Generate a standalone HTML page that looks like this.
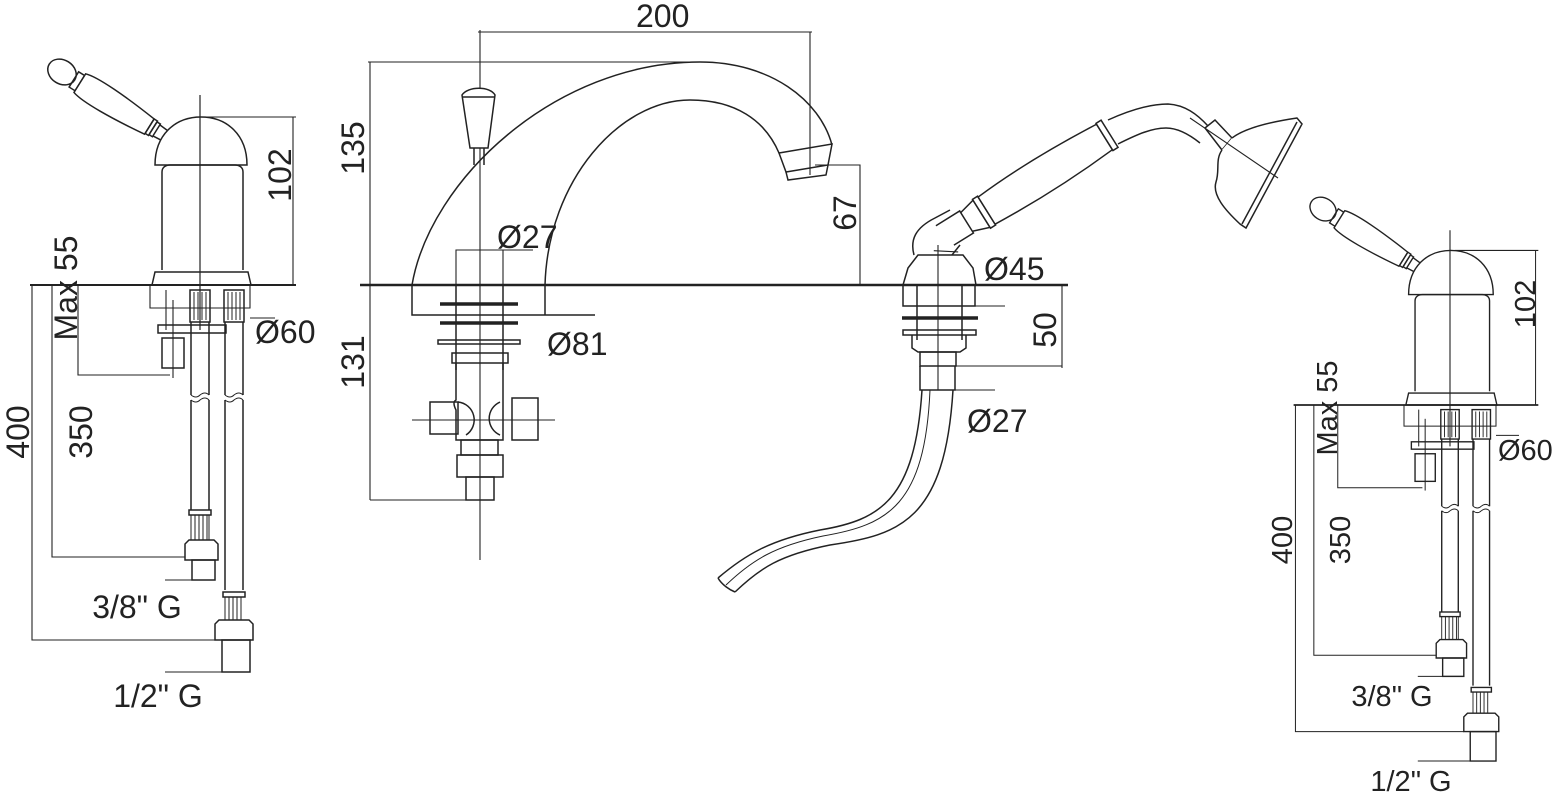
<!DOCTYPE html>
<html><head><meta charset="utf-8"><style>
html,body{margin:0;padding:0;background:#fff;}
svg{display:block;}
text{font-family:"Liberation Sans",sans-serif;fill:#222;}
</style></head><body>
<svg width="1566" height="799" viewBox="0 0 1566 799" xmlns="http://www.w3.org/2000/svg">
<defs>
<g id="v" fill="none" stroke="#222" stroke-width="1.5">
  <g transform="rotate(32 62 72)">
    <ellipse cx="62" cy="72" rx="15" ry="12" fill="#fff"/>
    <rect x="76" y="63" width="7" height="18"/>
    <path d="M83,61 C95,57 130,59 165,63 L165,81 C130,85 95,87 83,83 Z" fill="#fff"/>
    <rect x="165" y="63" width="4" height="17"/>
    <rect x="169" y="64" width="4" height="15"/>
    <path d="M173,65 L186,66 M173,78 L186,77"/>
  </g>
  <path d="M155,165 C155,135 175,117 201,117 C227,117 247,135 247,165 Z" fill="#fff"/>
  <path d="M162,270 L162,172 C162,167 166,165 170,165 L235,165 C239,165 243,167 243,172 L243,270"/>
  <path d="M152,285 L155,272 L248,272 L251,285 Z"/>
  <line x1="200" y1="95" x2="200" y2="330" stroke-width="1.2"/>
  <line x1="205" y1="117" x2="296" y2="117" stroke-width="1.1"/>
  <line x1="293" y1="117" x2="293" y2="285" stroke-width="1.1"/>
  <line x1="30" y1="285" x2="296" y2="285" stroke-width="2"/>
  <path d="M150,285 L150,308 L250,308 L250,285" stroke-width="1.1"/>
  <line x1="250" y1="318" x2="275" y2="318" stroke-width="1.1"/>
  <rect x="158" y="325" width="68" height="8"/>
  <rect x="162" y="338" width="22" height="30"/>
  <line x1="173" y1="300" x2="173" y2="378" stroke-width="1.1"/>
  <line x1="166" y1="290" x2="166" y2="330" stroke-width="1.1"/>
  <rect x="190" y="290" width="20" height="32"/>
  <path d="M194,292 V320 M198,292 V320 M202,292 V320 M206,292 V320" stroke-width="1"/>
  <path d="M191,322 V395 M209,322 V395 M191,400 V510 M209,400 V510" />
  <path d="M191,395 q5,4 9,0 q5,-4 9,0 M191,400 q5,4 9,0 q5,-4 9,0" stroke-width="1"/>
  <rect x="189" y="510" width="22" height="5"/>
  <path d="M191,515 V540 M195,515 V540 M199,515 V540 M203,515 V540 M207,515 V540 M209,515 V540" stroke-width="1"/>
  <path d="M185,560 L185,544 L189,540 L214,540 L218,544 L218,560 Z"/>
  <rect x="192" y="560" width="23" height="20"/>
  <line x1="165" y1="580" x2="215" y2="580" stroke-width="1.1"/>
  <rect x="224" y="290" width="20" height="32"/>
  <path d="M228,292 V320 M232,292 V320 M236,292 V320 M240,292 V320" stroke-width="1"/>
  <path d="M225,322 V395 M243,322 V395 M225,400 V590 M243,400 V590"/>
  <path d="M225,395 q5,4 9,0 q5,-4 9,0 M225,400 q5,4 9,0 q5,-4 9,0" stroke-width="1"/>
  <rect x="223" y="592" width="22" height="5"/>
  <path d="M225,597 V620 M229,597 V620 M233,597 V620 M237,597 V620 M241,597 V620" stroke-width="1"/>
  <path d="M215,640 L215,624 L219,620 L249,620 L253,624 L253,640 Z"/>
  <rect x="222" y="640" width="28" height="32"/>
  <line x1="165" y1="672" x2="250" y2="672" stroke-width="1.1"/>
  <path d="M78,285 V375 H170" stroke-width="1.1"/>
  <path d="M52,285 V557 H185" stroke-width="1.1"/>
  <path d="M32,285 V640 H215" stroke-width="1.1"/>
</g>
</defs>

<use href="#v"/>
<use href="#v" transform="translate(1450 405) scale(0.92) translate(-200 -285)"/>

<g fill="none" stroke="#222" stroke-width="1.5">
  <line x1="360" y1="285" x2="1068" y2="285" stroke-width="2.6"/>
  <line x1="478" y1="32" x2="812" y2="32" stroke-width="1.1"/>
  <line x1="810" y1="32" x2="810" y2="175" stroke-width="1.1"/>
  <line x1="480" y1="30" x2="480" y2="560" stroke-width="1.1"/>
  <line x1="368" y1="62" x2="700" y2="62" stroke-width="1.1"/>
  <line x1="370" y1="62" x2="370" y2="500" stroke-width="1.1"/>
  <line x1="370" y1="500" x2="480" y2="500" stroke-width="1.1"/>
  <path d="M412,285 C430,180 555,62 700,62 C770,62 820,100 832,145"/>
  <path d="M545,285 C548,180 620,100 690,100 C735,100 765,120 779,153"/>
  <path d="M779,153 L832,144 L828,165 L786,172 Z"/>
  <path d="M786,172 L788,180 L826,175 L828,165"/>
  <path d="M412,285 V315 H595 M545,285 V315"/>
  <path d="M462,95 C468,86 490,86 495,95 L488,148 L470,148 Z" fill="#fff"/>
  <line x1="462" y1="97" x2="495" y2="97"/>
  <path d="M474,148 V165 M484,148 V165"/>
  <path d="M815,165 H860 V285" stroke-width="1.1"/>
  <path d="M456,285 V250 H533 M503,250 V285" stroke-width="1.1"/>
  <path d="M456,285 V370 M503,285 V370"/>
  <line x1="440" y1="304" x2="518" y2="304" stroke-width="3.5"/>
  <line x1="440" y1="323" x2="518" y2="323" stroke-width="3.5"/>
  <rect x="438" y="340" width="82" height="4"/>
  <rect x="452" y="353" width="56" height="10"/>
  <path d="M456,363 V400 Q452,402 456,410 V440 H503 V400 M503,363 V400"/>
  <rect x="430" y="402" width="28" height="32"/>
  <path d="M458,402 A18,18 0 0 1 466,435"/>
  <rect x="512" y="398" width="26" height="42"/>
  <path d="M500,402 A18,18 0 0 0 500,435"/>
  <line x1="412" y1="420" x2="555" y2="420" stroke-width="1.1"/>
  <rect x="461" y="440" width="37" height="15"/>
  <rect x="457" y="455" width="46" height="22"/>
  <rect x="466" y="477" width="28" height="23"/>
  <path d="M903,285 L908,268 L918,255 L963,255 L973,268 L976,285"/>
  <path d="M903,285 V306 H975 V285"/>
  <line x1="975" y1="306" x2="1005" y2="306" stroke-width="1.1"/>
  <line x1="975" y1="285" x2="1065" y2="285" stroke-width="1.1"/>
  <line x1="1062" y1="285" x2="1062" y2="368" stroke-width="1.1"/>
  <path d="M917,285 V340 M962,285 V340"/>
  <line x1="902" y1="318" x2="978" y2="318" stroke-width="3.5"/>
  <rect x="903" y="330" width="73" height="5"/>
  <path d="M912,335 L912,348 L918,352 L960,352 L966,348 L966,335"/>
  <rect x="920" y="352" width="36" height="14"/>
  <line x1="956" y1="366" x2="1062" y2="366" stroke-width="1.1"/>
  <path d="M920,366 V390 H955 V366"/>
  <line x1="955" y1="390" x2="995" y2="390" stroke-width="1.1"/>
  <line x1="938" y1="245" x2="938" y2="390" stroke-width="1.1"/>
  <path d="M922,390 C915,500 880,520 820,530 C770,540 745,555 718,578"/>
  <path d="M953,390 C945,520 900,535 830,545 C780,555 760,568 735,592"/>
  <path d="M718,578 C722,585 730,590 735,592"/>
  <path d="M930,390 C925,505 888,525 823,536 C775,546 752,560 726,585" stroke-width="1"/>
  <path d="M914,255 C910,240 915,228 935,218 L950,210"/>
  <path d="M952,255 L960,245"/>
  <g transform="rotate(-32 955 228)">
    <path d="M940,216 L968,216 L968,242 L945,242" fill="#fff"/>
    <path d="M968,218 L985,214 L985,246 L968,240"/>
    <rect x="985" y="213" width="6" height="34" fill="#fff"/>
    <path d="M991,214 C1040,210 1090,212 1130,215 L1130,245 C1090,248 1040,249 991,246 Z" fill="#fff"/>
    <rect x="1130" y="214" width="6" height="32" fill="#fff"/>
    <line x1="925" y1="236" x2="945" y2="250" stroke-width="1.1"/>
  </g>
  <path d="M1108,120 C1130,110 1150,104 1168,104 C1185,105 1197,114 1208,126"/>
  <path d="M1118,144 C1138,134 1152,128 1166,128 C1178,128 1190,135 1200,143"/>
  <path d="M1205,128 L1215,120 L1232,138 L1222,150 Z"/>
  <path d="M1232,138 C1245,128 1270,122 1297,118 L1302,124 L1246,228 L1240,224 C1225,210 1212,195 1216,182 C1220,170 1215,160 1222,150" fill="#fff"/>
  <line x1="1297" y1="122" x2="1242" y2="224"/>
  <line x1="1190" y1="118" x2="1278" y2="178" stroke-width="1.1"/>
</g>

<g font-size="32">
  <text x="636" y="27">200</text>
  <text transform="translate(364 148) rotate(-90)" text-anchor="middle">135</text>
  <text transform="translate(364 362) rotate(-90)" text-anchor="middle">131</text>
  <text transform="translate(856 213) rotate(-90)" text-anchor="middle">67</text>
  <text x="497" y="248">Ø27</text>
  <text x="547" y="355">Ø81</text>
  <text x="984" y="280">Ø45</text>
  <text transform="translate(1056 330) rotate(-90)" text-anchor="middle">50</text>
  <text x="967" y="432">Ø27</text>
  <text transform="translate(291 175) rotate(-90)" text-anchor="middle">102</text>
  <text transform="translate(77 288) rotate(-90)" text-anchor="middle">Max 55</text>
  <text transform="translate(92 432) rotate(-90)" text-anchor="middle">350</text>
  <text transform="translate(29 432) rotate(-90)" text-anchor="middle">400</text>
  <text x="255" y="343">Ø60</text>
  <text x="137" y="618" text-anchor="middle">3/8" G</text>
  <text x="158" y="707" text-anchor="middle">1/2" G</text>
</g>
<g font-size="29">
  <text transform="translate(1535 304) rotate(-90)" text-anchor="middle">102</text>
  <text transform="translate(1337 408) rotate(-90)" text-anchor="middle">Max 55</text>
  <text transform="translate(1350 540) rotate(-90)" text-anchor="middle">350</text>
  <text transform="translate(1292 540) rotate(-90)" text-anchor="middle">400</text>
  <text x="1498" y="460">Ø60</text>
  <text x="1392" y="706" text-anchor="middle">3/8" G</text>
  <text x="1411" y="791" text-anchor="middle">1/2" G</text>
</g>
</svg>
</body></html>
